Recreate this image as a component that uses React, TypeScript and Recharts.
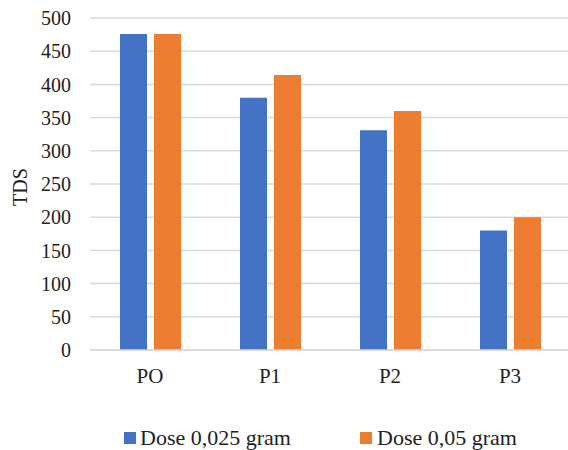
import React from "react";
import { BarChart, Bar, XAxis, YAxis, CartesianGrid, Legend } from "recharts";

const categories = ["PO", "P1", "P2", "P3"];
const dose025 = [476, 380, 331, 180];
const dose05 = [476, 414, 360, 200];
const yTicks = [0, 50, 100, 150, 200, 250, 300, 350, 400, 450, 500];
const seriesNames = ["Dose 0,025 gram", "Dose 0,05 gram"];
const seriesColors = ["#4472C4", "#ED7D31"];

const data = categories.map((c, i) => ({ name: c, a: dose025[i], b: dose05[i] }));

const FONT = '"Liberation Serif", "Times New Roman", serif';
const TEXT = "#222";

const YLabel = () => (
  <text
    x={20}
    y={187}
    transform="rotate(-90 20 187)"
    textAnchor="middle"
    dominantBaseline="central"
    fontFamily={FONT}
    fontSize={20}
    fill={TEXT}
  >
    TDS
  </text>
);

const LegendContent = () => {
  const items = [
    { x: 124, textX: 140 },
    { x: 360, textX: 377 },
  ];
  return (
    <div style={{ position: "relative", width: 570, height: 40 }}>
      {items.map((it, i) => (
        <React.Fragment key={i}>
          <div
            style={{
              position: "absolute",
              left: it.x,
              top: 22,
              width: 12,
              height: 12,
              background: seriesColors[i],
            }}
          />
          <div
            style={{
              position: "absolute",
              left: it.textX,
              top: 15,
              fontFamily: FONT,
              fontSize: 22,
              lineHeight: "26px",
              color: TEXT,
              whiteSpace: "nowrap",
            }}
          >
            {seriesNames[i]}
          </div>
        </React.Fragment>
      ))}
    </div>
  );
};

export default function App() {
  return (
    <div
      style={{
        position: "absolute",
        left: 0,
        top: 0,
        width: 568,
        height: 450,
        overflow: "hidden",
        background: "#fff",
        fontFamily: FONT,
      }}
    >
      <BarChart
        width={570}
        height={450}
        data={data}
        margin={{ top: 18, right: 0, bottom: 0, left: 0 }}
        barSize={27}
        barGap={7}
      >
        <CartesianGrid vertical={false} stroke="#d9d9d9" strokeWidth={1.5} />
        <XAxis
          dataKey="name"
          height={60}
          tickLine={false}
          axisLine={{ stroke: "#d9d9d9", strokeWidth: 1.5 }}
          tickSize={0}
          tickMargin={18}
          tick={{ fontFamily: FONT, fontSize: 21, fill: TEXT }}
        />
        <YAxis
          width={90}
          domain={[0, 500]}
          ticks={yTicks}
          interval={0}
          tickLine={false}
          axisLine={false}
          tickSize={0}
          tickMargin={19}
          tick={{ fontFamily: FONT, fontSize: 20, fill: TEXT }}
          label={<YLabel />}
        />
        <Legend
          verticalAlign="bottom"
          content={<LegendContent />}
          wrapperStyle={{ top: 410, left: 0, width: 570, height: 40 }}
        />
        <Bar dataKey="a" name={seriesNames[0]} fill={seriesColors[0]} isAnimationActive={false} />
        <Bar dataKey="b" name={seriesNames[1]} fill={seriesColors[1]} isAnimationActive={false} />
      </BarChart>
    </div>
  );
}
